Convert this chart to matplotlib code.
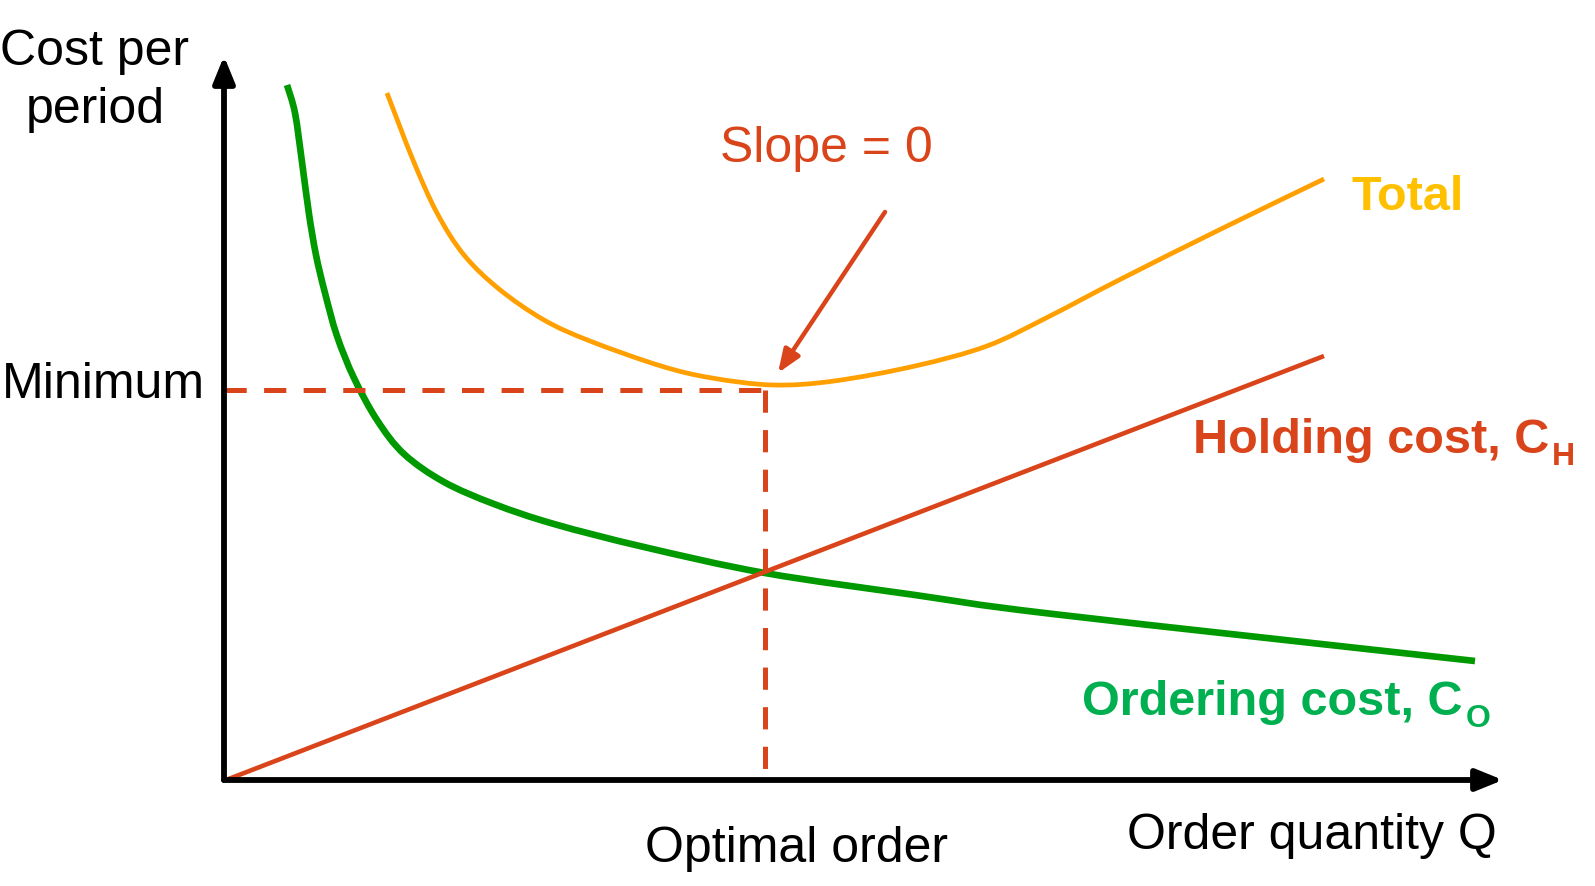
"""
EOQ sketch: ordering cost, holding cost and total cost vs order quantity Q.
"""
import matplotlib
matplotlib.use("Agg")
import numpy as np
import matplotlib.pyplot as plt
from matplotlib.path import Path
from matplotlib.patches import PathPatch

plt.rcParams.update({
    'font.family': ['Liberation Sans', 'DejaVu Sans'],
    'lines.scale_dashes': False,
})

RED = '#D9441A'
ORANGE = '#FFA000'
GOLD = '#FFC000'
GREEN_LINE = '#009900'
GREEN_TEXT = '#00B050'

# curves (Q, cost) in arbitrary chart units
ORDER_Q = [63, 71, 78, 85, 92, 101, 113, 130, 153, 180, 220, 270, 330, 420,
           541, 691, 829, 1251]
ORDER_C = [695, 667, 618, 566, 525, 487, 444, 402, 360, 326, 298, 276, 256, 233,
           207, 185, 166, 119]

TOTAL_Q = [163, 189, 213, 240, 275, 320, 366, 437, 488, 549, 610, 691, 763,
           824, 895, 997, 1100]
TOTAL_C = [687, 620, 567, 525, 491, 460, 439, 414, 402, 395, 399, 414, 434,
           463, 500, 551, 601]

HOLD_Q = [2, 1100]
HOLD_C = [0, 424]

Q_OPT = 541
C_MIN = 390

Q_MAX = 1279   # x-axis arrow tip
C_MAX = 724    # y-axis arrow tip


def smooth_path(xs, ys):
    """Catmull-Rom through the points, drawn as cubic Bezier segments."""
    p = np.column_stack([xs, ys]).astype(float)
    verts = [p[0]]
    codes = [Path.MOVETO]
    for i in range(len(p) - 1):
        p0 = p[i - 1] if i > 0 else p[i]
        p3 = p[i + 2] if i + 2 < len(p) else p[i + 1]
        c1 = p[i] + (p[i + 1] - p0) / 6
        c2 = p[i + 1] - (p3 - p[i]) / 6
        verts += [c1, c2, p[i + 1]]
        codes += [Path.CURVE4] * 3
    return Path(verts, codes)


fig = plt.figure(figsize=(15.95, 8.86), dpi=100)
ax = fig.add_axes([0, 0, 1, 1])
ax.set_xlim(-224, 1371)
ax.set_ylim(-106, 780)
ax.axis('off')

# axes arrows
for tip in [(Q_MAX, 0), (0, C_MAX)]:
    ax.annotate('', xy=tip, xytext=(0, 0),
                arrowprops=dict(arrowstyle='-|>,head_length=1.6,head_width=0.65',
                                mutation_scale=10, lw=4.2, color='black',
                                shrinkA=0, shrinkB=0))

# dashed guides
ax.plot([0, Q_OPT], [C_MIN, C_MIN], color=RED, lw=3.6, dashes=(16, 12.5))
ax.plot([Q_OPT, Q_OPT], [C_MIN, 0], color=RED, lw=3.6, dashes=(16, 12.5))

# curves
ax.plot(HOLD_Q, HOLD_C, color=RED, lw=3.3, solid_capstyle='butt')
ax.add_patch(PathPatch(smooth_path(ORDER_Q, ORDER_C), facecolor='none',
                       edgecolor=GREEN_LINE, lw=4.8, capstyle='butt'))
ax.add_patch(PathPatch(smooth_path(TOTAL_Q, TOTAL_C), facecolor='none',
                       edgecolor=ORANGE, lw=3.4, capstyle='butt'))

# slope = 0 arrow
ax.annotate('', xy=(554, 407), xytext=(661, 568),
            arrowprops=dict(arrowstyle='-|>,head_length=1.4,head_width=0.55',
                            mutation_scale=10, lw=3.2, color=RED,
                            shrinkA=0, shrinkB=0))
ax.text(496, 618, 'Slope = 0', color=RED, fontsize=36, va='baseline', ha='left')

# axis labels
ax.text(-129, 715, 'Cost per', fontsize=36, ha='center', va='baseline')
ax.text(-129, 657, 'period', fontsize=36, ha='center', va='baseline')
ax.text(-222, 382, 'Minimum', fontsize=36, va='baseline', ha='left')
ax.text(421, -82, 'Optimal order', fontsize=36, va='baseline', ha='left')
ax.text(1273, -69, 'Order quantity Q', fontsize=36, va='baseline', ha='right')

# curve labels
ax.text(1128, 570, 'Total', color=GOLD, fontsize=35, fontweight='bold',
        va='baseline', ha='left')


def label_with_sub(x, y, main, sub, color):
    t = ax.text(x, y, main, color=color, fontsize=35, fontweight='bold',
                va='baseline', ha='left')
    fig.canvas.draw()
    bb = t.get_window_extent(renderer=fig.canvas.get_renderer())
    x_end = ax.transData.inverted().transform((bb.x1, 0))[0]
    ax.text(x_end + 3, y - 12, sub, color=color, fontsize=23, fontweight='bold',
            va='baseline', ha='left')


label_with_sub(969, 327, 'Holding cost, C', 'H', RED)
label_with_sub(858, 65, 'Ordering cost, C', 'O', GREEN_TEXT)

fig.savefig('out.png', dpi=100)
